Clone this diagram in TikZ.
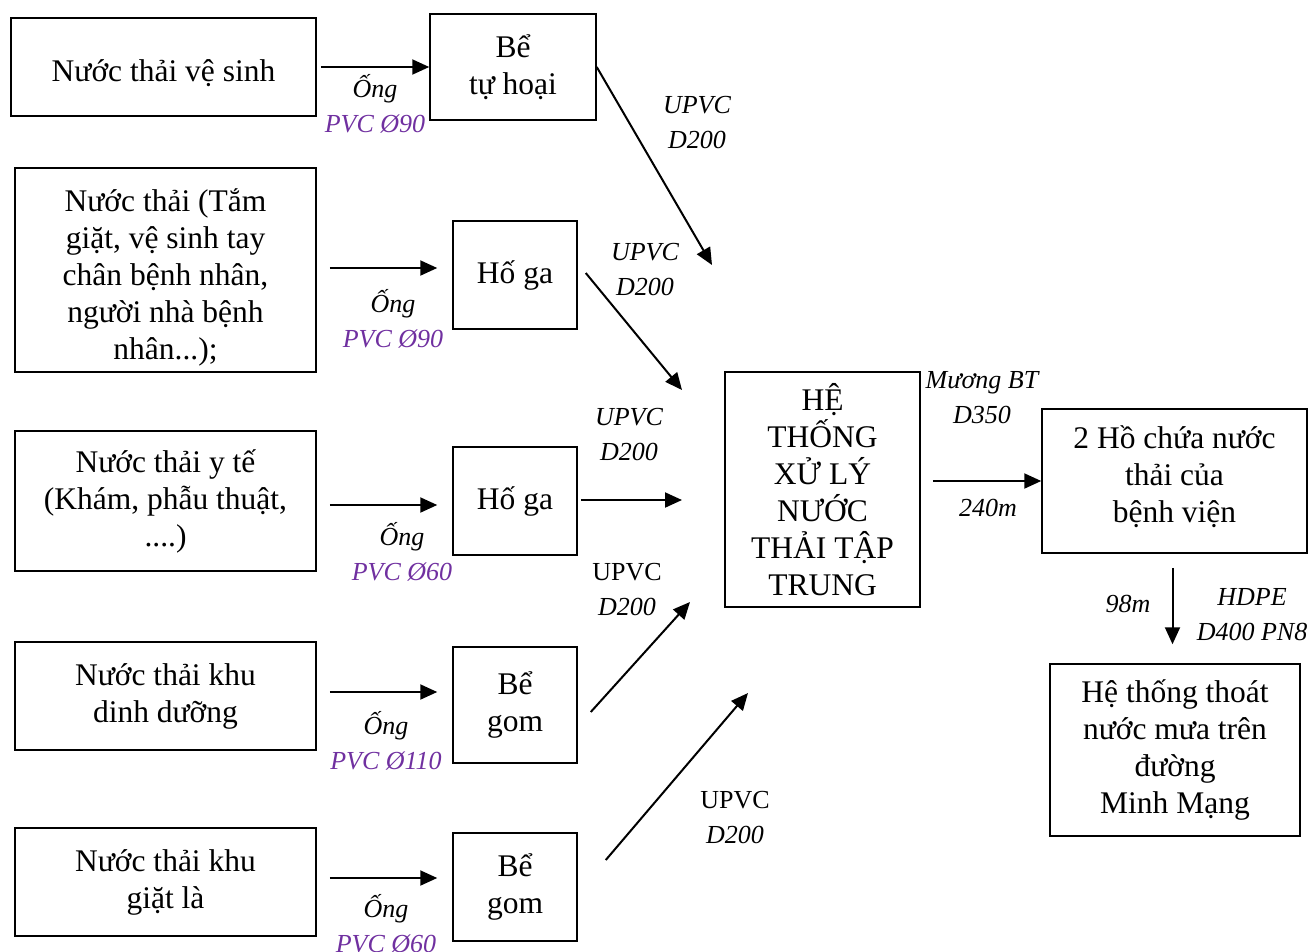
\documentclass[tikz,border=0pt]{standalone}
\usepackage{fontspec}
\setmainfont{Liberation Serif}
\usetikzlibrary{arrows.meta}
\definecolor{pvcpurple}{HTML}{7030A0}
\newcommand\boxfont{\fontsize{31.5}{37}\selectfont}
\newcommand\pipefont{\fontsize{26}{35}\selectfont\itshape}
\begin{document}
\begin{tikzpicture}[x=1pt,y=-1pt,
  box/.style={draw, line width=1.5pt, align=center, inner sep=0pt, font=\boxfont},
  flow/.style={-{Triangle[length=17pt,width=15pt]}, line width=2pt},
  lab/.style={align=center, inner sep=0pt, font=\pipefont}]
\useasboundingbox (0,0) rectangle (1311,951);

% sources
\node[box, minimum width=305pt, minimum height=98pt]  (w1) at (163.5,67) {\rule{0pt}{35pt}Nước thải vệ sinh};
\node[box, minimum width=301pt, minimum height=204pt] (w2) at (165.5,270) {\rule{0pt}{37pt}Nước thải (Tắm\\giặt, vệ sinh tay\\chân bệnh nhân,\\người nhà bệnh\\nhân...);};
\node[box, minimum width=301pt, minimum height=140pt] (w3) at (165.5,501) {Nước thải y tế\\(Khám, phẫu thuật,\\....)};
\node[box, minimum width=301pt, minimum height=108pt] (w4) at (165.5,696) {Nước thải khu\\dinh dưỡng};
\node[box, minimum width=301pt, minimum height=108pt] (w5) at (165.5,882) {Nước thải khu\\giặt là};

% pre-treatment tanks and pits
\node[box, minimum width=166pt, minimum height=106pt] (bth) at (513,67)  {Bể\\tự hoại};
\node[box, minimum width=124pt, minimum height=108pt] (hg1) at (515,275) {Hố ga};
\node[box, minimum width=124pt, minimum height=108pt] (hg2) at (515,501) {Hố ga};
\node[box, minimum width=124pt, minimum height=116pt] (bg1) at (515,705) {Bể\\gom};
\node[box, minimum width=124pt, minimum height=108pt] (bg2) at (515,887) {Bể\\gom};

% treatment plant and outlets
\node[box, minimum width=195pt, minimum height=235pt] (xl) at (822.5,489.5) {HỆ\\THỐNG\\XỬ LÝ\\NƯỚC\\THẢI TẬP\\TRUNG};
\node[box, minimum width=265pt, minimum height=144pt] (ho) at (1174.5,481) {2 Hồ chứa nước\\thải của\\bệnh viện\rule[-14pt]{0pt}{0pt}};
\node[box, minimum width=250pt, minimum height=172pt] (mm) at (1175,750) {Hệ thống thoát\\nước mưa trên\\đường\\Minh Mạng};

% free ends of the pipes into the plant
\coordinate (t1) at (712,265);
\coordinate (t2) at (682,390);
\coordinate (t3) at (682,500);
\coordinate (t4) at (690,602);
\coordinate (t5) at (748,693);

% source pipes
\draw[flow, shorten <=4pt] (w1.east) -- (bth.west);
\draw[flow, shorten <=13pt, shorten >=15pt] ([yshift=2pt]w2.east) -- ([yshift=2pt]w2.east -| hg1.west);
\draw[flow, shorten <=13pt, shorten >=15pt] ([yshift=-4pt]w3.east) -- ([yshift=-4pt]w3.east -| hg2.west);
\draw[flow, shorten <=13pt, shorten >=15pt] ([yshift=4pt]w4.east) -- ([yshift=4pt]w4.east -| bg1.west);
\draw[flow, shorten <=13pt, shorten >=15pt] ([yshift=4pt]w5.east) -- ([yshift=4pt]w5.east -| bg2.west);

% pipes to the plant
\draw[flow] (bth.east) -- (t1);
\draw[flow] ([xshift=8pt,yshift=2pt]hg1.east) -- (t2);
\draw[flow] ([xshift=3pt,yshift=1pt]hg2.east) -- (t3);
\draw[flow] ([xshift=13pt,yshift=-7pt]bg1.east) -- (t4);
\draw[flow] ([xshift=28pt,yshift=27pt]bg2.east) -- (t5);

% plant to ponds to drainage
\draw[flow, shorten <=12pt] (xl.east |- ho.west) -- (ho.west);
\draw[flow, shorten <=14pt, shorten >=19pt] ([xshift=-2pt]ho.south) -- ([xshift=-2pt]ho.south |- mm.north);

% pipe labels
\node[lab] (p1) at (375,104)   {Ống\\\textcolor{pvcpurple}{PVC Ø90}};
\node[lab] (u1) at (697,122.5) {UPVC\\D200};
\node[lab] (u2) at (645,269.5) {UPVC\\D200};
\node[lab] (p2) at (393,318.5) {Ống\\\textcolor{pvcpurple}{PVC Ø90}};
\node[lab] (u3) at (629,434.5) {UPVC\\D200};
\node[lab] (p3) at (402,551.5) {Ống\\\textcolor{pvcpurple}{PVC Ø60}};
\node[lab] (u4) at (627,589.5) {{\upshape UPVC}\\D200};
\node[lab] (p4) at (386,740.5) {Ống\\\textcolor{pvcpurple}{PVC Ø110}};
\node[lab] (u5) at (735,817.5) {{\upshape UPVC}\\D200};
\node[lab] (p5) at (386,924)   {Ống\\\textcolor{pvcpurple}{PVC Ø60}};
\node[lab] (mb) at (982,398)   {Mương BT\\D350};
\node[lab] (l1) at (988,508)   {240m};
\node[lab] (l2) at (1128,604)  {98m};
\node[lab] (hd) at (1252,614.5) {HDPE\\D400 PN8};
\end{tikzpicture}
\end{document}
